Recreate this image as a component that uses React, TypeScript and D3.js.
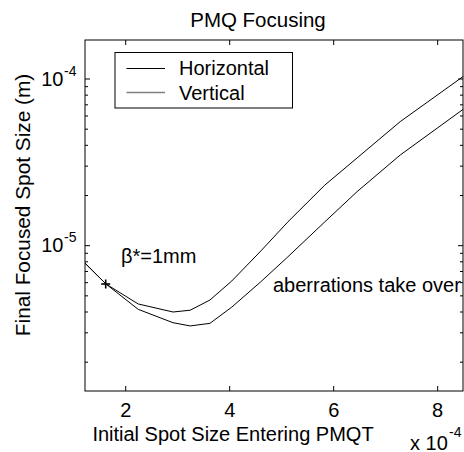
import React from 'react'
import * as d3 from 'd3'

// initial spot size (x 1e-4 m)
const spotIn = [1.22, 1.62, 2.24, 2.91, 3.24, 3.62, 4.04, 4.6, 5.12, 5.83, 6.45, 7.28, 8.49]
const horizontal = [7.84e-6, 5.89e-6, 4.47e-6, 4.0e-6, 4.1e-6, 4.72e-6, 6.14e-6, 9.3e-6, 1.39e-5, 2.31e-5, 3.36e-5, 5.55e-5, 1.035e-4]
const vertical = [7.84e-6, 5.89e-6, 4.15e-6, 3.45e-6, 3.3e-6, 3.42e-6, 4.28e-6, 6.08e-6, 8.58e-6, 1.39e-5, 2.11e-5, 3.5e-5, 6.58e-5]
const xTicks = [2, 4, 6, 8]
const yMajor = [1e-5, 1e-4]
const yMinor = [2, 3, 4, 5, 6, 7, 8, 9].flatMap(m => [m * 1e-6, m * 1e-5])
const betaPoint = { x: 1.615, y: 5.89e-6 }

const width = 464
const height = 452
const margin = { top: 40, right: 1, bottom: 61, left: 85 }
const font = '"Liberation Sans", Arial, Helvetica, sans-serif'

export default function App() {
    const x = d3.scaleLinear()
        .domain([1.217, 8.487])
        .range([margin.left, width - margin.right])
    const y = d3.scaleLog()
        .domain([1.343e-6, 1.714e-4])
        .range([height - margin.bottom, margin.top])

    const line = d3.line<number>()
        .x((_, i) => x(spotIn[i]))
        .y(d => y(d))

    const [x0, x1] = x.range()
    const [y1, y0] = y.range()
    const bx = x(betaPoint.x)
    const by = y(betaPoint.y)

    return (
        <svg width={width} height={height} style={{ position: 'absolute', left: 0, top: 0, background: '#fff' }} fontFamily={font}>
            <rect x={0} y={0} width={width} height={height} fill="#fff" />
            <text x={258} y={27} fontSize={20.5} textAnchor="middle">PMQ Focusing</text>

            {/* curves */}
            <path d={line(horizontal) || ''} fill="none" stroke="#000" strokeWidth={1} />
            <path d={line(vertical) || ''} fill="none" stroke="#000" strokeWidth={1} />
            {/* beta* = 1mm marker */}
            <g stroke="#000" strokeWidth={1.6}>
                <line x1={bx - 4.5} x2={bx + 4.5} y1={by} y2={by} />
                <line x1={bx} x2={bx} y1={by - 4.5} y2={by + 4.5} />
            </g>

            {/* frame and ticks */}
            <rect x={x0} y={y0} width={x1 - x0} height={y1 - y0} fill="none" stroke="#000" strokeWidth={1} />
            <g stroke="#000" strokeWidth={1}>
                {xTicks.map(t => (
                    <g key={t}>
                        <line x1={x(t)} x2={x(t)} y1={y1} y2={y1 - 5} />
                        <line x1={x(t)} x2={x(t)} y1={y0} y2={y0 + 5} />
                    </g>
                ))}
                {yMajor.map(t => (
                    <g key={t}>
                        <line x1={x0} x2={x0 + 5} y1={y(t)} y2={y(t)} />
                        <line x1={x1} x2={x1 - 5} y1={y(t)} y2={y(t)} />
                    </g>
                ))}
                {yMinor.map(t => (
                    <g key={t}>
                        <line x1={x0} x2={x0 + 3} y1={y(t)} y2={y(t)} />
                        <line x1={x1} x2={x1 - 3} y1={y(t)} y2={y(t)} />
                    </g>
                ))}
            </g>

            {/* tick labels */}
            {xTicks.map(t => (
                <text key={t} x={x(t)} y={417} fontSize={20} textAnchor="middle">{t}</text>
            ))}
            {yMajor.map(t => (
                <g key={t}>
                    <text x={63.5} y={y(t) + 6.5} fontSize={20} textAnchor="end">10</text>
                    <text x={64} y={y(t) - 3.5} fontSize={14}>{Math.round(Math.log10(t))}</text>
                </g>
            ))}
            <text x={410} y={449.5} fontSize={20}>x 10</text>
            <text x={449} y={437} fontSize={14}>-4</text>

            {/* axis labels */}
            <text x={233} y={441} fontSize={20} textAnchor="middle">Initial Spot Size Entering PMQT</text>
            <text transform="translate(30,205) rotate(-90)" fontSize={20.8} textAnchor="middle">Final Focused Spot Size (m)</text>

            {/* annotations */}
            <text x={121} y={263} fontSize={20}>β*=1mm</text>
            <text x={273} y={292} fontSize={20}>aberrations take over</text>

            {/* legend */}
            <rect x={115} y={52.5} width={177.5} height={55.5} fill="#fff" stroke="#000" strokeWidth={1} />
            <line x1={126.5} x2={165} y1={68.5} y2={68.5} stroke="#000" strokeWidth={1} />
            <line x1={126.5} x2={165} y1={92.5} y2={92.5} stroke="#808080" strokeWidth={1.3} />
            <text x={179} y={75} fontSize={20}>Horizontal</text>
            <text x={179} y={100} fontSize={20}>Vertical</text>
        </svg>
    )
}
